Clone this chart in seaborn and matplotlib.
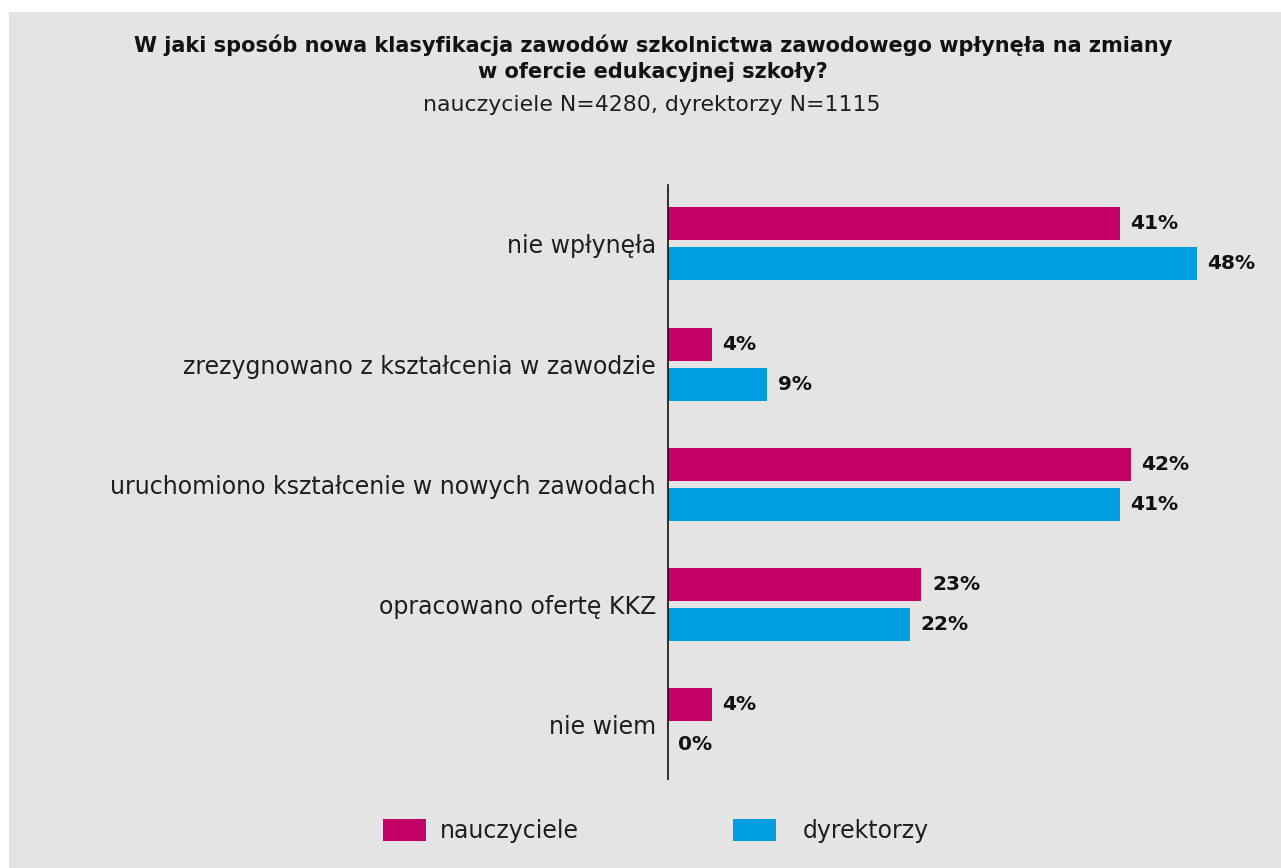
import matplotlib
matplotlib.use("Agg")
import matplotlib.pyplot as plt
from matplotlib.patches import Rectangle
import seaborn as sns
import pandas as pd

# Survey answers and shares (%) per respondent group
categories = [
    "nie wpłynęła",
    "zrezygnowano z kształcenia w zawodzie",
    "uruchomiono kształcenie w nowych zawodach",
    "opracowano ofertę KKZ",
    "nie wiem",
]
groups = ["nauczyciele", "dyrektorzy"]
teachers = [41, 4, 42, 23, 4]
principals = [48, 9, 41, 22, 0]
colors = ["#c20066", "#009ee0"]

title = ("W jaki sposób nowa klasyfikacja zawodów szkolnictwa zawodowego wpłynęła na zmiany\n"
         "w ofercie edukacyjnej szkoły?")
subtitle = "nauczyciele N=4280, dyrektorzy N=1115"

df = pd.DataFrame({
    "odpowiedź": categories * 2,
    "grupa": [groups[0]] * len(categories) + [groups[1]] * len(categories),
    "procent": teachers + principals,
})

sns.set_theme(style="white")
plt.rcParams["font.family"] = ["DejaVu Sans"]

bg = "#e3e4e3"
W, H = 1281, 868
fig = plt.figure(figsize=(W / 100, H / 100), dpi=100, facecolor="white")
fig.patches.append(Rectangle((9 / W, 0), 1 - 9 / W, 1 - 12 / H,
                             transform=fig.transFigure, facecolor=bg,
                             edgecolor="none", zorder=-10))

ax = fig.add_axes([668 / W, 89 / H, 551 / W, 594 / H])
ax.set_facecolor("none")

sns.barplot(data=df, y="odpowiedź", x="procent", hue="grupa",
            palette=colors, orient="h", width=0.664, gap=0.175,
            order=categories, hue_order=groups, legend=False, ax=ax,
            saturation=1, edgecolor="none", linewidth=0)

for cont in ax.containers:
    ax.bar_label(cont, fmt="%d%%", padding=7.5, fontsize=14.5,
                 fontweight="bold", color="#111111")

ax.set_xlim(0, 50)
ax.set_ylim(4.45, -0.49)
ax.set_xlabel("")
ax.set_ylabel("")
ax.set_xticks([])
for s in ["top", "right", "bottom"]:
    ax.spines[s].set_visible(False)
ax.spines["left"].set_color("#111111")
ax.spines["left"].set_linewidth(1.2)
ax.tick_params(axis="y", length=0, pad=8.5, labelsize=17, labelcolor="#1e1e1e")

fig.text(653 / W, 1 - 58 / H, title, ha="center", va="center",
         fontsize=15, fontweight="bold", color="#111111", linespacing=1.4)
fig.text(652 / W, 1 - 105 / H, subtitle, ha="center", va="center",
         fontsize=15.8, color="#1e1e1e")

# Legend: colour swatches with their group names
legend_items = [(383, 440, groups[0], colors[0]),
                (733, 803, groups[1], colors[1])]
for px, tx, label, col in legend_items:
    fig.patches.append(Rectangle((px / W, 1 - 841 / H), 43 / W, 22 / H,
                                 transform=fig.transFigure, facecolor=col,
                                 edgecolor="none"))
    fig.text(tx / W, 1 - 831 / H, label, ha="left", va="center",
             fontsize=17, color="#1e1e1e")

fig.savefig("out.png", dpi=100, facecolor="white")
